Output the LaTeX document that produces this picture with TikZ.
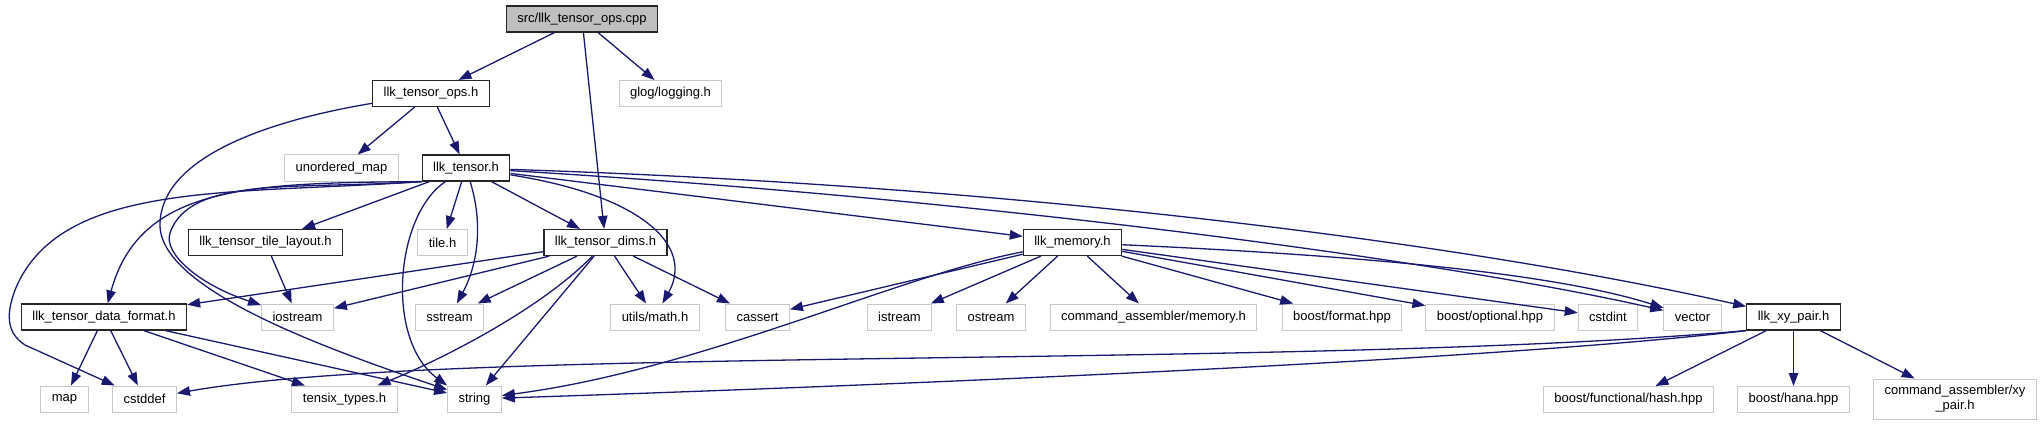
\documentclass[tikz,border=0pt]{standalone}
\definecolor{EdgeBlue}{RGB}{25,25,112}
\definecolor{FillGray}{RGB}{191,191,191}
\definecolor{LineGray}{RGB}{200,200,200}
\usepackage{fontspec}
\setmainfont{Liberation Sans}
\usepackage{tikz}
\usetikzlibrary{arrows.meta}

\begin{document}
\begin{tikzpicture}[x=1pt,y=-1pt,
        file/.style={draw=black!85,line width=1.2pt,fill=white,
                    minimum height=26pt,inner xsep=11pt,inner ysep=2pt,
                    font=\fontsize{13}{15}\selectfont},
        sys/.style={file,draw=LineGray,line width=1pt},
        arrow/.style={-{Triangle[length=13pt,width=9.5pt]},line width=1.3pt,EdgeBlue}]
        \useasboundingbox[fill=white] (0,0) rectangle (2043,425);
        \node[file,fill=FillGray] (root) at (582,19) {src/llk\_tensor\_ops.cpp};
        \node[file] (ops)   at (431,93.5)    {llk\_tensor\_ops.h};
        \node[sys]  (glog)  at (670.5,93.5)  {glog/logging.h};
        \node[sys]  (umap)  at (341.5,168)   {unordered\_map};
        \node[file] (tensor) at (466,168)    {llk\_tensor.h};
        \node[file] (tlay)  at (265.5,242.5) {llk\_tensor\_tile\_layout.h};
        \node[sys]  (tile)  at (442.5,242.5) {tile.h};
        \node[file] (dims)  at (605.5,242.5) {llk\_tensor\_dims.h};
        \node[file] (mem)   at (1072.5,242.5) {llk\_memory.h};
        \node[file] (dfmt)  at (104,317)     {llk\_tensor\_data\_format.h};
        \node[sys]  (iostr) at (297.5,317)   {iostream};
        \node[sys]  (sstr)  at (449.5,317)   {sstream};
        \node[sys]  (umath) at (655,317)     {utils/math.h};
        \node[sys]  (cassert) at (757.5,317) {cassert};
        \node[sys]  (istr)  at (899.5,317)   {istream};
        \node[sys]  (ostr)  at (991,317)     {ostream};
        \node[sys]  (camem) at (1153.5,317)  {command\_assembler/memory.h};
        \node[sys]  (bfmt)  at (1342,317)    {boost/format.hpp};
        \node[sys]  (bopt)  at (1490,317)    {boost/optional.hpp};
        \node[sys]  (cint)  at (1608,317)    {cstdint};
        \node[sys]  (vec)   at (1692.5,317)  {vector};
        \node[file] (xy)    at (1793.5,317)  {llk\_xy\_pair.h};
        \node[sys]  (map)   at (64.5,399)    {map};
        \node[sys]  (cdef)  at (144.5,399)   {cstddef};
        \node[sys]  (tensix) at (344.5,399)  {tensix\_types.h};
        \node[sys]  (str)   at (474.5,399)   {string};
        \node[sys]  (bhash) at (1628.5,399.5) {boost/functional/hash.hpp};
        \node[sys]  (hana)  at (1793.5,399.5) {boost/hana.hpp};
        \node[sys,align=center,minimum height=40pt] (caxy) at (1955,399) {command\_assembler/xy\\\_pair.h};
        % src/llk_tensor_ops.cpp
        \draw[arrow] (root) -- (ops);
        \draw[arrow] (root) -- (dims);
        \draw[arrow] (root) -- (glog);
        % llk_tensor_ops.h
        \draw[arrow] (ops) -- (umap);
        \draw[arrow] (ops) -- (tensor);
        \draw[arrow] (ops) .. controls (260,122) and (160,160) .. (160,225)
                           .. controls (160,290) and (330,350) .. (str);
        % llk_tensor.h
        \draw[arrow] (tensor) -- (tlay);
        \draw[arrow] (tensor) -- (tile);
        \draw[arrow] (tensor) -- (dims);
        \draw[arrow] (tensor) -- (mem);
        \draw[arrow] (tensor) .. controls (485,230) and (475,270) .. (sstr);
        \draw[arrow] (tensor) .. controls (395,215) and (385,340) .. (str.north west);
        \draw[arrow] (tensor) .. controls (640,195) and (695,245) .. (umath);
        \draw[arrow] (tensor) .. controls (1000,200) and (1450,262) .. (vec);
        \draw[arrow] (tensor) .. controls (1000,185) and (1450,240) .. (xy);
        \draw[arrow] (tensor.south west) .. controls (250,183) and (140,185) .. (dfmt);
        \draw[arrow] (tensor.south west) .. controls (300,190) and (190,175) .. (170,233)
                           .. controls (163,254) and (200,285) .. (iostr);
        \draw[arrow] (tensor.south west) .. controls (230,195) and (60,180) .. (15,290)
                           .. controls (7,312) and (5,332) .. (25,345) -- (cdef);
        % llk_tensor_dims.h
        \draw[arrow] (dims) -- (dfmt);
        \draw[arrow] (dims) -- (iostr);
        \draw[arrow] (dims) -- (sstr);
        \draw[arrow] (dims) .. controls (540,310) and (440,360) .. (tensix);
        \draw[arrow] (dims) -- (str);
        \draw[arrow] (dims) -- (umath);
        \draw[arrow] (dims) -- (cassert);
        \draw[arrow] (tlay) -- (iostr);
        % llk_tensor_data_format.h
        \draw[arrow] (dfmt) -- (map);
        \draw[arrow] (dfmt) -- (cdef);
        \draw[arrow] (dfmt) -- (tensix);
        \draw[arrow] (dfmt) -- (str);
        % llk_memory.h
        \draw[arrow] (mem) -- (cassert);
        \draw[arrow] (mem) .. controls (900,275) and (700,370) .. (str);
        \draw[arrow] (mem) -- (istr);
        \draw[arrow] (mem) -- (ostr);
        \draw[arrow] (mem) -- (camem);
        \draw[arrow] (mem) -- (bfmt);
        \draw[arrow] (mem) -- (bopt);
        \draw[arrow] (mem) -- (cint);
        \draw[arrow] (mem) .. controls (1350,255) and (1550,272) .. (vec);
        % llk_xy_pair.h
        \draw[arrow] (xy) -- (bhash);
        \draw[arrow] (xy) -- (hana);
        \draw[arrow] (xy) -- (caxy);
        \draw[arrow] (xy.south west) .. controls (1300,370) and (450,345) .. (cdef);
        \draw[arrow] (xy.south west) .. controls (1500,360) and (900,385) .. (str);
      \end{tikzpicture}
\end{document}
